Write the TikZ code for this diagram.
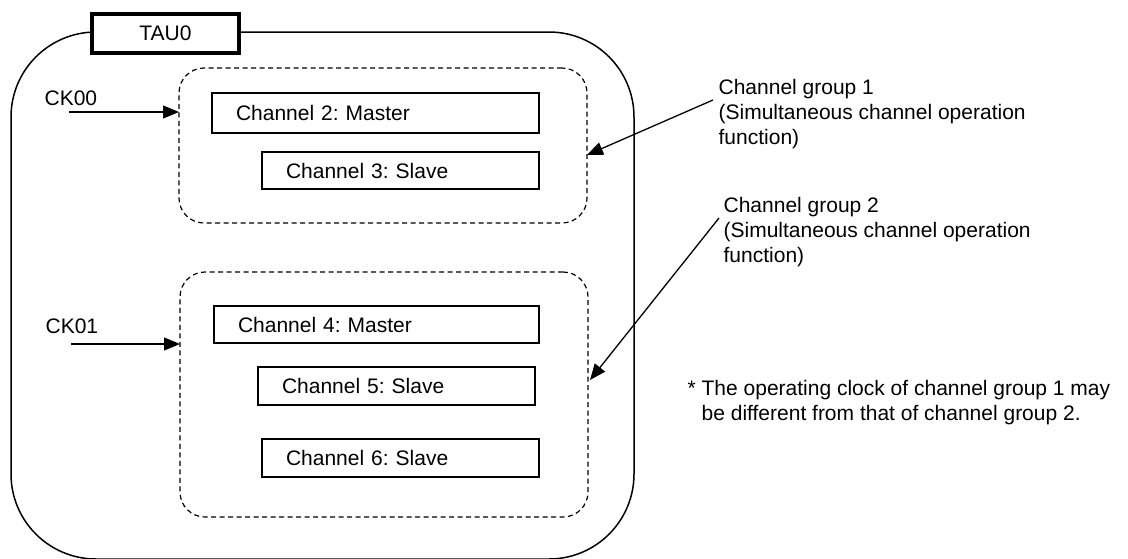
\documentclass[tikz,border=0pt]{standalone}
\usepackage{fontspec}
\setmainfont{Liberation Sans}
\usetikzlibrary{arrows.meta}
\frenchspacing

\begin{document}
\begin{tikzpicture}[x=1pt,y=-1pt,line width=1.3pt,>={Triangle[length=16pt,width=13pt]},
  font=\fontsize{21}{25}\selectfont,
  grp/.style={draw,line width=1.2pt,dash pattern=on 5pt off 3.5pt,rounded corners=25pt,anchor=north west,outer sep=0pt,inner sep=0pt},
  chbox/.style={draw,line width=1.5pt,anchor=north west,outer sep=0pt,inner ysep=0pt,inner xsep=24pt,align=left}]
  \useasboundingbox (0,0) rectangle (1128,558);
  % unidad TAU0
  \node[draw,line width=1.5pt,rounded corners=85pt,minimum width=623pt,minimum height=527pt,anchor=north west,outer sep=0pt] (tau) at (11,32) {};
  \node[draw,fill=white,line width=3.4pt,minimum width=147pt,minimum height=39pt,inner sep=0pt] (taulbl) at (165.5,33.5) {TAU0};
  % grupo 1
  \node[grp,minimum width=408pt,minimum height=155pt] (g1) at (179,68) {};
  \node[chbox,text width=279pt,minimum height=40pt] (ch2) at (212,93) {Channel 2: Master};
  \node[chbox,text width=229pt,minimum height=37pt] (ch3) at (262,152) {Channel 3: Slave};
  % grupo 2
  \node[grp,minimum width=408pt,minimum height=245pt] (g2) at (180,272) {};
  \node[chbox,text width=277pt,minimum height=37pt] (ch4) at (214,306) {Channel 4: Master};
  \node[chbox,text width=229pt,minimum height=38pt] (ch5) at (258,367) {Channel 5: Slave};
  \node[chbox,text width=229pt,minimum height=38pt] (ch6) at (262,439) {Channel 6: Slave};
  % relojes
  \node[anchor=west,inner sep=0pt] (ck00) at (44,98) {CK00};
  \coordinate (ck00a) at (69,112);
  \draw[->] (ck00a) -- (ck00a -| g1.west);
  \node[anchor=west,inner sep=0pt] (ck01) at (45,326) {CK01};
  \coordinate (ck01a) at (71,344);
  \draw[->] (ck01a) -- (ck01a -| g2.west);
  % notas
  \node[anchor=north west,align=left,inner sep=0pt] (n1) at (718,79) {Channel group 1\\(Simultaneous channel operation\\function)};
  \coordinate (n1a) at (713,100);
  \draw[->] (n1a) -- ([yshift=-9.5pt]g1.east);
  \node[anchor=north west,align=left,inner sep=0pt] (n2) at (723,197) {Channel group 2\\(Simultaneous channel operation\\function)};
  \coordinate (n2a) at (719,218);
  \draw[->] (n2a) -- ([yshift=14.5pt,xshift=2pt]g2.east);
  \node[anchor=north west,align=left,inner sep=0pt] (note) at (687,380) {* The operating clock of channel group 1 may\\\phantom{* }be different from that of channel group 2.};
\end{tikzpicture}
\end{document}
